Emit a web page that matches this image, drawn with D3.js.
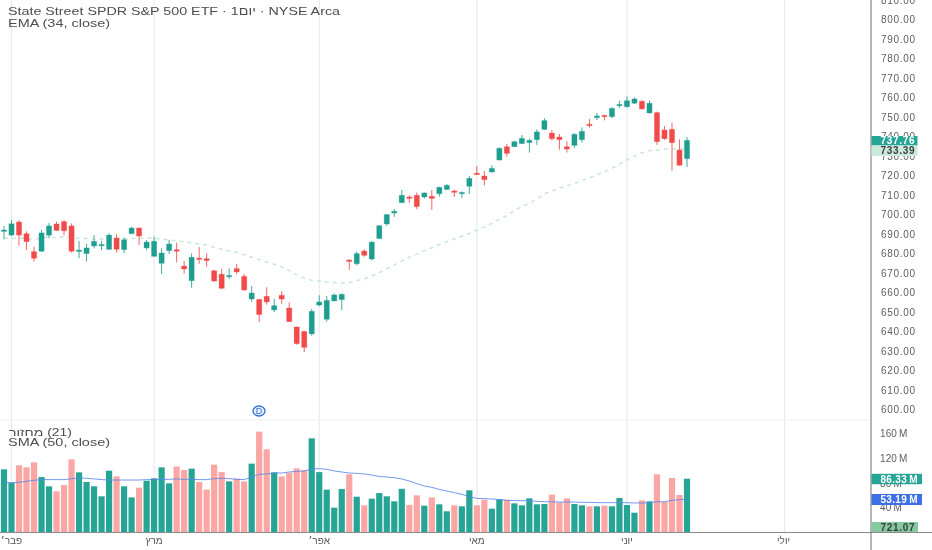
<!DOCTYPE html>
<html><head><meta charset="utf-8">
<script src="https://cdn.jsdelivr.net/npm/d3@7/dist/d3.min.js"></script>
<style>
html,body{margin:0;padding:0;background:#fff;overflow:hidden}
svg{display:block;font-family:"Liberation Sans",Arial,sans-serif;filter:blur(0.35px)}
</style></head><body><div id="chart"></div>
<script>
const openPrices=[691.4,689.2,695.9,689.9,680.7,680.9,689.1,694.9,696.1,693.9,681.2,679.7,683.6,683.8,681.9,687.7,681.7,689.9,692.8,682.6,678.3,674.7,681.2,681.7,673.3,665.8,677.4,677.1,670.9,669.1,667.9,672.0,668.0,656.4,656.2,657.8,650.8,658.3,651.8,642.1,639.8,638.5,653.3,646.0,655.4,656.1,676.4,674.5,681.0,676.9,687.4,694.9,700.5,705.8,708.7,709.6,708.7,709.1,710.4,712.6,711.8,710.6,714.2,720.9,719.5,721.5,727.7,734.5,734.5,736.1,736.6,738.1,743.4,741.5,739.5,734.5,735.2,738.1,746.0,749.4,750.6,749.9,755.7,755.0,756.8,757.8,751.8,752.0,743.1,743.4,732.8,728.4];
const highPrices=[693.9,696.9,696.9,691.1,683.3,691.8,695.4,696.1,696.9,695.2,686.2,684.6,689.2,686.2,690.1,689.6,688.0,693.5,693.2,686.7,688.4,682.4,686.7,685.3,675.9,679.8,683.1,679.8,671.3,672.0,672.1,674.4,669.2,663.1,656.4,662.4,656.6,660.5,654.7,642.2,640.0,651.3,658.3,658.0,659.3,659.3,676.8,680.7,681.9,686.0,694.2,700.0,702.6,712.3,709.6,711.1,711.1,712.3,714.0,715.4,712.6,711.6,719.5,724.6,722.0,725.0,734.2,735.9,737.6,740.5,738.5,743.4,749.2,743.1,741.0,737.3,741.4,744.4,748.7,751.8,750.8,754.7,758.0,760.2,759.8,758.5,758.3,752.5,745.1,746.8,738.3,739.5];
const lowPrices=[687.0,688.7,683.8,681.5,675.6,680.5,687.5,691.3,689.2,680.2,677.3,675.6,682.4,681.5,681.5,680.2,679.8,689.7,684.1,681.5,678.1,669.2,679.5,675.2,669.4,662.2,674.5,673.0,665.3,661.4,666.7,669.2,660.7,655.0,644.6,653.5,649.7,653.9,644.6,633.0,629.2,637.6,652.8,644.8,655.2,650.8,671.3,673.7,678.1,676.2,687.2,693.9,698.5,705.6,705.8,702.4,707.9,702.1,708.9,712.3,708.9,708.2,710.3,720.0,714.7,721.4,727.4,729.4,734.4,735.9,731.5,735.4,743.1,737.6,733.0,731.5,733.9,736.6,744.3,748.2,748.0,749.1,754.4,754.5,756.4,753.5,751.5,735.4,738.0,722.2,724.8,724.1];
const closePrices=[691.8,695.0,689.2,685.8,677.3,690.3,693.9,691.6,691.4,680.9,681.5,682.6,686.0,684.4,689.2,681.9,686.8,692.8,688.7,685.6,686.0,680.0,684.6,680.9,671.8,677.8,676.8,676.1,665.6,661.9,668.5,670.3,661.0,659.5,648.4,654.9,653.0,656.4,644.8,633.5,631.6,650.1,654.9,655.7,658.5,658.8,675.7,679.7,678.8,685.6,694.0,699.7,701.4,709.6,708.4,703.8,710.8,708.0,713.7,714.7,711.5,711.1,718.3,720.2,717.6,723.4,733.7,731.1,737.1,738.8,737.8,742.1,747.9,738.6,738.1,733.3,740.9,742.4,745.5,750.3,750.1,754.2,756.2,758.1,759.0,753.9,756.8,737.1,738.6,736.6,725.0,737.76];
const emaValues=[687.5,687.5,687.7,687.4,687.0,687.7,688.0,688.0,688.4,688.0,687.5,687.4,687.2,687.2,687.2,687.2,687.2,687.5,687.5,687.7,687.7,687.0,686.7,686.2,685.8,685.1,684.6,684.1,682.9,681.9,681.0,680.4,679.0,677.8,676.6,675.4,674.2,672.8,671.1,668.9,667.0,666.0,665.6,665.1,664.8,664.6,664.9,665.8,666.7,668.2,669.9,671.8,673.8,675.9,677.8,679.5,681.2,682.7,684.4,685.8,687.2,688.6,690.1,691.8,693.3,695.2,697.3,699.3,701.7,703.8,705.5,707.7,710.3,711.8,713.2,714.4,715.6,717.1,718.5,720.0,721.7,723.4,725.6,727.7,729.7,731.4,732.5,732.8,733.2,733.3,733.3,733.39];
const volumeValues=[101.5,79.4,108,104.7,112.8,89,74,65.9,76,117.7,96.6,81,74,57.8,99.3,90,74,56,71.8,83,87,104.7,78.8,106,100.4,102.6,81,68.6,109,97,82,86.4,82,110.7,162.5,133.9,96.6,90,96,103,100,151.7,97,68.6,39.4,69.6,93.4,57.2,43.2,54,63,57.8,49.7,70,43.7,59.4,42.6,56,44.8,33.5,43.2,41.6,67.5,43.2,52.4,37.8,52.9,52.4,46.4,43.2,54.5,44.8,45.3,60.5,48,54.5,45.3,43.2,41.6,41.6,42.6,41.6,55,43.7,31.3,51.3,49.7,93.4,48.6,87.4,60,86.33];
const smaValues=[80,80,80.5,82,83.7,84.8,84.8,84.8,84.8,86.4,87.5,87,86,84.8,84.2,84.2,84.2,84.2,84.2,84.8,84.8,85.3,85.3,85.9,85.3,85.3,84.8,84.8,86.4,87,86.4,85.3,84.8,89,93.4,94,95.5,95.5,97.2,98.2,98.8,102,102.6,101.5,98.8,97.2,95.5,95,94,92.3,90,89,88,85.8,82.6,78.3,74.5,72.3,69,66.4,63.7,61,57.2,54.5,54,53.4,52.4,51.3,50.8,50.8,50.8,49.7,49,49,48.6,48.6,48.6,48,48,47.5,47.5,47.5,47.5,47.5,47,47,47.5,49,49,51.3,52.4,53.19];
const priceTicks=d3.range(600,811,10);
const volumeTicks=[40,80,120,160];
const monthBars=[1,20,42,63,83,104];
const monthLabels=["פבר׳","מרץ","אפר׳","מאי","יוני","יולי"];
const titleLine="State Street SPDR S&P 500 ETF · 1יום · NYSE Arca";
const emaLine="EMA (34, close)";
const volLine="מחזור\u200e (21)";
const smaLine="SMA (50, close)";

const W=932,H=550,axisX=871,paneSep=420,volBase=532;
const up="#1f9e8f",dn="#f04a4a";
const svg=d3.select("#chart").append("svg").attr("width",W).attr("height",H);
const x=d3.scaleLinear().domain([0,91]).range([4,687]);
const yP=d3.scaleLinear().domain([600,800]).range([409,19]);
const yV=d3.scaleLinear().domain([0,160]).range([volBase,433.2]);
const idx=d3.range(closePrices.length);
const isUp=i=>closePrices[i]>=openPrices[i];

svg.append("g").selectAll("line").data(monthBars).join("line")
 .attr("x1",d=>x(d)).attr("x2",d=>x(d)).attr("y1",0).attr("y2",volBase)
 .attr("stroke","#e3ebf2").attr("stroke-width",1.2);
svg.append("line").attr("x1",0).attr("x2",axisX).attr("y1",paneSep).attr("y2",paneSep).attr("stroke","#eef0f3");

// volume
svg.append("g").selectAll("rect").data(idx).join("rect")
 .attr("x",i=>x(i)-3.1).attr("width",6.2).attr("y",i=>yV(volumeValues[i])).attr("height",i=>volBase-yV(volumeValues[i]))
 .attr("fill",i=>isUp(i)?"#26a596":"#f9a6a4");
svg.append("path").datum(idx).attr("fill","none").attr("stroke","#5b86ea").attr("stroke-opacity",.85).attr("stroke-width",1)
 .attr("d",d3.line().x(i=>x(i)).y(i=>yV(smaValues[i])));

// EMA
svg.append("path").datum(idx).attr("fill","none").attr("stroke","#c6e6d6").attr("stroke-width",1.4).attr("stroke-dasharray","4 4")
 .attr("d",d3.line().x(i=>x(i)).y(i=>yP(emaValues[i])));

// candles
const c=svg.append("g").selectAll("g").data(idx).join("g");
c.append("line").attr("x1",i=>x(i)).attr("x2",i=>x(i)).attr("y1",i=>yP(highPrices[i])).attr("y2",i=>yP(lowPrices[i]))
 .attr("stroke",i=>isUp(i)?up:dn).attr("stroke-width",1).attr("stroke-opacity",.85);
c.append("rect").attr("x",i=>x(i)-2.6).attr("width",5.2)
 .attr("y",i=>yP(Math.max(openPrices[i],closePrices[i])))
 .attr("height",i=>Math.max(1.4,Math.abs(yP(openPrices[i])-yP(closePrices[i]))))
 .attr("fill",i=>isUp(i)?up:dn)
 .attr("stroke",i=>isUp(i)?up:dn).attr("stroke-opacity",.3).attr("stroke-width",.9);

// D marker
const dm=svg.append("g").attr("transform","translate(259,411)");
dm.append("ellipse").attr("rx",6).attr("ry",5).attr("fill","#eaf1fe").attr("stroke","#2f6fd8").attr("stroke-width",1.3);
dm.append("text").attr("text-anchor","middle").attr("y",3.2).attr("font-size",9).attr("fill","#2f6fd8").text("D");

// frame
svg.append("line").attr("x1",0).attr("x2",W).attr("y1",volBase+.5).attr("y2",volBase+.5).attr("stroke","#8a8a8a").attr("stroke-width",1);
svg.append("line").attr("x1",axisX).attr("x2",axisX).attr("y1",0).attr("y2",H).attr("stroke","#6e6e6e").attr("stroke-width",1);

// axes
const axTxt=(g,sp)=>{g.select(".domain").remove();g.selectAll("line").remove();
 g.selectAll("text").attr("fill","#5e5e5e").attr("font-size",10).attr("letter-spacing",sp).attr("font-family","Liberation Sans").attr("x",0).attr("dy","0.35em");};
svg.append("g").attr("transform","translate(881,0)").call(d3.axisRight(yP).tickValues(priceTicks).tickFormat(d=>d.toFixed(2))).call(axTxt,".7px");
svg.append("g").attr("transform","translate(880,0)").call(d3.axisRight(yV).tickValues(volumeTicks).tickFormat(d=>d+"\u2009M")).call(axTxt,".1px");

// tags
const tags=[["86.33\u2009M",473.8,484.2,921.5,"#26a596","#fff",".3px"],["53.19\u2009M",494,505,921.5,"#3d6fe6","#fff",".3px"],["721.07",522,532,917.5,"#84c9a0","#3d3d3d",".7px"],["737.76",136,145.5,917,"#26a596","#fff",".7px"],["733.39",145.5,156,917,"#cbe9dc","#3d3d3d",".7px"]];
const t=svg.append("g").selectAll("g").data(tags).join("g");
t.append("rect").attr("x",axisX+.5).attr("y",d=>d[1]).attr("width",d=>d[3]-axisX).attr("height",d=>d[2]-d[1]).attr("fill",d=>d[4]);
t.append("text").attr("x",880.5).attr("y",d=>(d[1]+d[2])/2).attr("dy",".36em").attr("font-size",10).attr("font-weight",600).attr("letter-spacing",d=>d[6]).attr("fill",d=>d[5]).text(d=>d[0]);

// month labels
svg.append("g").selectAll("text").data(monthBars).join("text")
 .attr("x",d=>x(d)+(d===104?-1:0)).attr("y",543.5).attr("text-anchor","middle").attr("font-size",10).attr("fill","#555").text((d,i)=>monthLabels[i]);

// legends
const lg=[[titleLine,8,15,11,332],[emaLine,8,27,11,102],[volLine,9,436,10.5,63],[smaLine,8,446,10.5,102]];
svg.append("g").selectAll("text").data(lg).join("text").attr("x",d=>d[1]).attr("y",d=>d[2]).attr("font-size",d=>d[3]).attr("fill","#4d4d4d")
 .attr("textLength",d=>d[4]).attr("lengthAdjust","spacingAndGlyphs").text(d=>d[0]);
</script></body></html>
